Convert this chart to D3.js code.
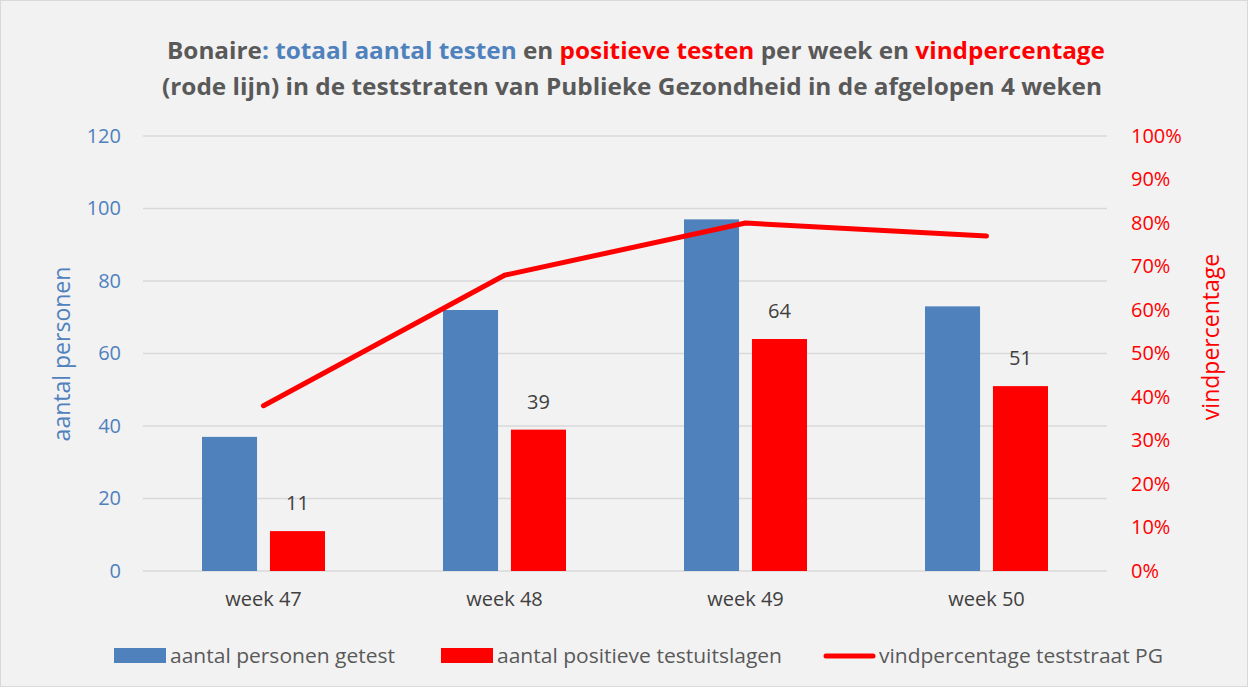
<!DOCTYPE html>
<html>
<head>
<meta charset="utf-8">
<script src="https://cdn.jsdelivr.net/npm/d3@7"></script>
<style>
  body { margin: 0; background: #fff; }
  svg { display: block; font-family: "Open Sans", sans-serif; }
</style>
</head>
<body>
<div class="viewbox"></div>
<script>
// chart data
const weeks = ["week 47", "week 48", "week 49", "week 50"];
const getest = [37, 72, 97, 73];          // aantal personen getest
const positief = [11, 39, 64, 51];        // aantal positieve testuitslagen
const vindpct = [0.38, 0.68, 0.80, 0.77]; // vindpercentage teststraat PG
const leftTicks = [0, 20, 40, 60, 80, 100, 120];
const rightTicks = [0, 0.1, 0.2, 0.3, 0.4, 0.5, 0.6, 0.7, 0.8, 0.9, 1];
const legendLabels = ["aantal personen getest", "aantal positieve testuitslagen", "vindpercentage teststraat PG"];

const BLUE = "#4f81bd", RED = "#ff0000", GREY = "#595959", DARK = "#404040";
const W = 1248, H = 687;
const plotLeft = 143, plotRight = 1107, plotTop = 136, plotBottom = 571;

let svg = d3.select(".viewbox")
  .append("svg")
  .attr("width", W)
  .attr("height", H)

svg.append("rect")
  .attr("x", 0.5).attr("y", 0.5)
  .attr("width", W - 1).attr("height", H - 1)
  .attr("fill", "#f2f2f2")
  .attr("stroke", "#d9d9d9")

// scales
let x = d3.scaleBand().domain(weeks).range([plotLeft, plotRight]).padding(0)
let xInner = d3.scaleBand().domain(["getest", "positief"]).range([0, 123]).paddingInner(0.19)
let y = d3.scaleLinear().domain([0, 120]).range([plotBottom, plotTop])
let y2 = d3.scaleLinear().domain([0, 1]).range([plotBottom, plotTop])

// gridlines
svg.append("g")
  .selectAll("line")
  .data(leftTicks)
  .enter()
  .append("line")
  .attr("x1", plotLeft).attr("x2", plotRight)
  .attr("y1", d => y(d)).attr("y2", d => y(d))
  .attr("stroke", "#d9d9d9")
  .attr("stroke-width", 1.5)

// left axis
let yAxis = svg.append("g")
  .attr("transform", `translate(${plotLeft - 22},0)`)
  .call(d3.axisLeft(y).tickValues(leftTicks).tickSize(0).tickPadding(0))
yAxis.select(".domain").remove()
yAxis.selectAll("text")
  .attr("fill", BLUE)
  .style("font-size", "20px")
  .style("font-family", "Open Sans")

// right axis
let yAxis2 = svg.append("g")
  .attr("transform", `translate(${plotRight + 24},0)`)
  .call(d3.axisRight(y2).tickValues(rightTicks).tickFormat(d3.format(".0%")).tickSize(0).tickPadding(0))
yAxis2.select(".domain").remove()
yAxis2.selectAll("text")
  .attr("fill", RED)
  .style("font-size", "20px")
  .style("font-family", "Open Sans")

// x axis labels
let xAxis = svg.append("g")
  .attr("transform", `translate(0,${plotBottom + 21})`)
  .call(d3.axisBottom(x).tickSize(0).tickPadding(0))
xAxis.select(".domain").remove()
xAxis.selectAll("text")
  .attr("fill", DARK)
  .style("font-size", "20px")
  .style("font-family", "Open Sans")

// axis titles
svg.append("text")
  .attr("transform", `translate(70,354) rotate(-90)`)
  .attr("text-anchor", "middle")
  .attr("fill", BLUE)
  .style("font-size", "23px")
  .text("aantal personen")

svg.append("text")
  .attr("transform", `translate(1219,337) rotate(-90)`)
  .attr("text-anchor", "middle")
  .attr("fill", RED)
  .style("font-size", "23px")
  .text("vindpercentage")

// bars
let groupOffset = (x.bandwidth() - 123) / 2;
let groups = svg.selectAll("g.week")
  .data(weeks)
  .enter()
  .append("g")
  .attr("class", "week")
  .attr("transform", d => `translate(${x(d) + groupOffset},0)`)

groups.append("rect")
  .attr("x", xInner("getest"))
  .attr("width", xInner.bandwidth())
  .attr("y", (d, i) => y(getest[i]))
  .attr("height", (d, i) => plotBottom - y(getest[i]))
  .attr("fill", BLUE)

groups.append("rect")
  .attr("x", xInner("positief"))
  .attr("width", xInner.bandwidth())
  .attr("y", (d, i) => y(positief[i]))
  .attr("height", (d, i) => plotBottom - y(positief[i]))
  .attr("fill", RED)

// data labels on red bars
groups.append("text")
  .attr("x", xInner("positief") + xInner.bandwidth() / 2)
  .attr("y", (d, i) => y(positief[i]) - 21)
  .attr("text-anchor", "middle")
  .attr("fill", DARK)
  .style("font-size", "20px")
  .text((d, i) => positief[i])

// line
let line = d3.line()
  .x((d, i) => x(weeks[i]) + x.bandwidth() / 2)
  .y(d => y2(d))

svg.append("path")
  .datum(vindpct)
  .attr("d", line)
  .attr("fill", "none")
  .attr("stroke", RED)
  .attr("stroke-width", 5)
  .attr("stroke-linecap", "round")
  .attr("stroke-linejoin", "round")

// title
const titleLines = [
  [["Bonaire", GREY], [": totaal aantal testen", BLUE], [" en ", GREY], ["positieve testen", RED], [" per week en ", GREY], ["vindpercentage", RED]],
  [["(rode lijn) in de teststraten van Publieke Gezondheid in de afgelopen 4 weken", GREY]]
];
const titleSpans = [[167, 938], [162, 940]];
titleLines.forEach((parts, li) => {
  let t = svg.append("text")
    .attr("x", titleSpans[li][0])
    .attr("y", 59 + li * 36)
    .attr("textLength", titleSpans[li][1])
    .attr("lengthAdjust", "spacingAndGlyphs")
    .style("font-size", "23px")
    .style("font-weight", "bold")
  parts.forEach(p => {
    t.append("tspan").attr("fill", p[1]).text(p[0])
  })
})

// legend
const legendX = [114, 441, 823];
const legendW = [281, 341, 340];
let legend = svg.append("g").attr("transform", "translate(0,656)")
legendLabels.forEach((lab, i) => {
  let g = legend.append("g").attr("transform", `translate(${legendX[i]},0)`)
  if (i < 2) {
    g.append("rect")
      .attr("x", 0).attr("y", -8)
      .attr("width", 52).attr("height", 15)
      .attr("fill", i === 0 ? BLUE : RED)
  } else {
    g.append("line")
      .attr("x1", 3).attr("x2", 50)
      .attr("y1", 0).attr("y2", 0)
      .attr("stroke", RED)
      .attr("stroke-width", 5)
      .attr("stroke-linecap", "round")
  }
  g.append("text")
    .attr("x", 56)
    .attr("y", 7)
    .attr("fill", GREY)
    .attr("textLength", legendW[i] - 56)
    .attr("lengthAdjust", "spacingAndGlyphs")
    .style("font-size", "20px")
    .text(lab)
})
</script>
</body>
</html>
